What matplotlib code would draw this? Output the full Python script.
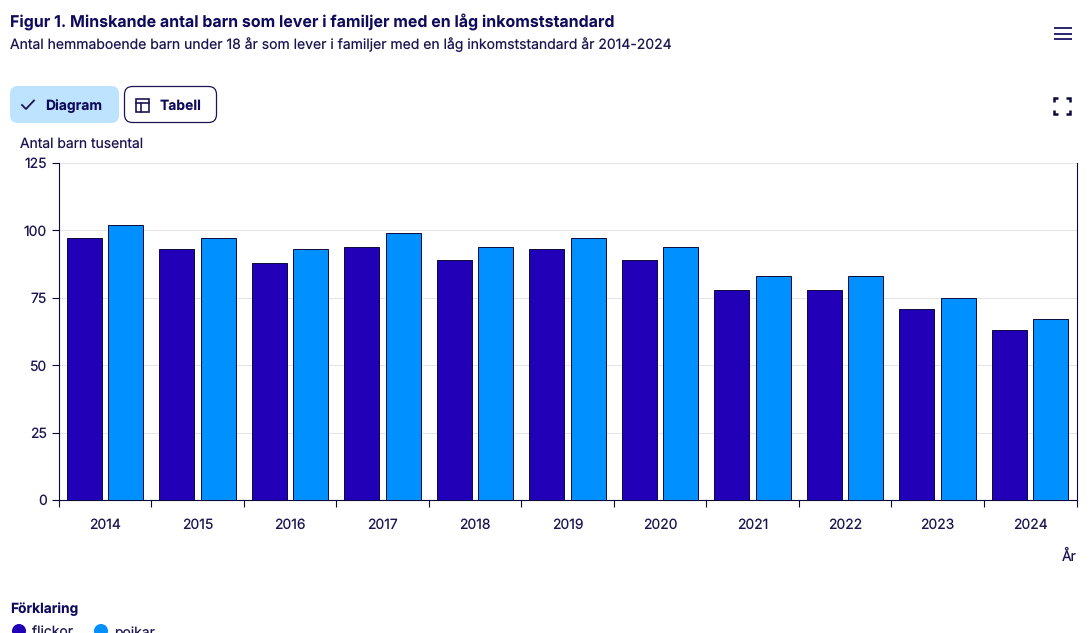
import numpy as np
import matplotlib
matplotlib.use("Agg")
import matplotlib.pyplot as plt
from matplotlib.patches import FancyBboxPatch, Circle, Rectangle

years = ["2014", "2015", "2016", "2017", "2018", "2019", "2020", "2021", "2022", "2023", "2024"]
flickor = [97, 93, 88, 94, 89, 93, 89, 78, 78, 71, 63]
pojkar = [102, 97, 93, 99, 94, 97, 94, 83, 83, 75, 67]
yticks = [0, 25, 50, 75, 100, 125]

title = "Figur 1. Minskande antal barn som lever i familjer med en låg inkomststandard"
subtitle = "Antal hemmaboende barn under 18 år som lever i familjer med en låg inkomststandard år 2014-2024"

NAVY = "#0f0a5c"
INK = "#1b1650"
DARK = "#2200b8"
LIGHT = "#0090ff"

plt.rcParams["font.family"] = ["Inter", "DejaVu Sans"]
plt.rcParams["text.hinting"] = "no_hinting"
plt.rcParams["text.hinting_factor"] = 1
W, H = 1090, 633
fig = plt.figure(figsize=(W / 100, H / 100), dpi=100, facecolor="white")

# overlay in pixel coordinates for the page furniture
ov = fig.add_axes([0, 0, 1, 1], zorder=5)
ov.set_xlim(0, W)
ov.set_ylim(H, 0)
ov.axis("off")

ax = fig.add_axes([58.5 / W, 1 - 500 / H, (1076.5 - 58.5) / W, (500 - 163) / H])
x = np.arange(len(years))
bw = 35 / 92.55
off = 20.75 / 92.55
ax.bar(x - off, flickor, bw, color=DARK, edgecolor="#0b0a3a", linewidth=0.7, zorder=3)
ax.bar(x + off, pojkar, bw, color=LIGHT, edgecolor="#0b0a3a", linewidth=0.7, zorder=3)

ax.set_xlim(-0.5, len(years) - 0.5)
ax.set_ylim(0, 125)
ax.set_yticks(yticks)
ax.set_xticks(np.arange(len(years) + 1) - 0.5)
ax.set_xticklabels([])
ax.set_xticks(x, minor=True)
ax.set_xticklabels(years, minor=True)
ax.tick_params(axis="x", which="major", length=5, width=0.8, color="#0b0a3a")
ax.tick_params(axis="x", which="minor", length=0, pad=13.5, labelsize=10, labelcolor=INK)
ax.tick_params(axis="y", length=5, width=0.8, color="#0b0a3a", labelsize=10, labelcolor=INK, pad=3.5)
ax.grid(axis="y", color="#e6e6e6", linewidth=0.8, zorder=0)
ax.set_axisbelow(True)
ax.spines["top"].set_visible(False)
for side in ["left", "right", "bottom"]:
    ax.spines[side].set_color("#0b0a3a")
    ax.spines[side].set_linewidth(0.8)

ov.text(10, 22.5, title, fontsize=11.5, fontweight="bold", color=NAVY, va="center", ha="left")
ov.text(10, 44.5, subtitle, fontsize=10.07, color=INK, va="center", ha="left")

# hamburger menu
for yy in (28, 33.5, 39):
    ov.plot([1054, 1072], [yy, yy], color="#2a2370", lw=1.4, solid_capstyle="butt")

# buttons
ov.add_patch(FancyBboxPatch((10, 86), 109, 37, boxstyle="round,pad=0,rounding_size=8",
                            fc="#bde3ff", ec="none"))
ov.add_patch(FancyBboxPatch((124.5, 86.5), 92, 36, boxstyle="round,pad=0,rounding_size=8",
                            fc="white", ec=INK, lw=0.9))
ov.plot([22, 26, 34], [105, 109, 100.5], color=INK, lw=1.3)
ov.text(45.5, 106, "Diagram", fontsize=10, fontweight="bold", color=NAVY, va="center")
ov.text(160, 106, "Tabell", fontsize=10, fontweight="bold", color=NAVY, va="center")
ov.add_patch(Rectangle((136, 99), 13, 13, fc="none", ec=INK, lw=1.2))
ov.plot([136, 149], [103, 103], color=INK, lw=1.2)
ov.plot([141, 141], [103, 112], color=INK, lw=1.2)

# fullscreen icon
for cx, cy, dx, dy in [(1054, 98, 1, 1), (1070, 98, -1, 1), (1054, 114, 1, -1), (1070, 114, -1, -1)]:
    ov.plot([cx + dx * 4, cx, cx], [cy, cy, cy + dy * 4], color="#0b0a3a", lw=1.8,
            solid_capstyle="butt", solid_joinstyle="miter")

ov.text(20, 144, "Antal barn tusental", fontsize=10, color=INK, va="center", ha="left")
ov.text(1076.5, 556.5, "År", fontsize=10, color=INK, va="center", ha="right")

# legend, cut by the lower edge as in the source
ov.text(10.5, 609, "Förklaring", fontsize=9.9, fontweight="bold", color=NAVY, va="center", ha="left")
ov.add_patch(Circle((19, 631), 7, fc=DARK, ec="none"))
ov.text(32, 633.5, "flickor", fontsize=10, color=INK, va="center", ha="left")
ov.add_patch(Circle((101, 631), 7, fc=LIGHT, ec="none"))
ov.text(114, 633.5, "pojkar", fontsize=10, color=INK, va="center", ha="left")

fig.savefig("out.png", dpi=100, facecolor="white")
